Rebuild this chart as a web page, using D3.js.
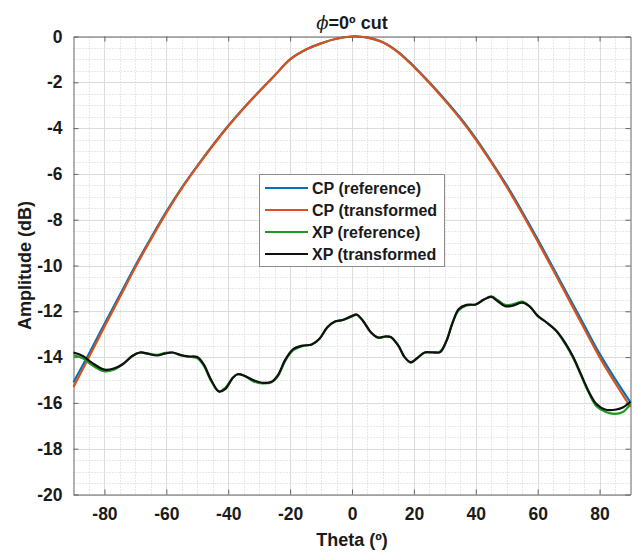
<!DOCTYPE html>
<html lang="en">
<head>
    <meta charset="UTF-8">
    <title>phi=0 cut</title>
    <script type="text/javascript" src="https://cdnjs.cloudflare.com/ajax/libs/d3/7.8.5/d3.min.js"></script>
    <style>
        body { margin: 0; background: #fff; }
        text { font-family: "Liberation Sans", Arial, sans-serif; font-weight: bold; fill: #1a1a1a; }
    </style>
</head>
<body>
    <div id="displayhere"></div>

    <script>
        // Data
        var cpTheta = [-90, -85, -80, -75, -70, -65, -60, -55, -50, -45, -40, -35, -30, -25, -20, -15, -10, -5, 0, 2, 5, 10, 15, 20, 25, 30, 35, 40, 45, 50, 55, 60, 65, 70, 75, 80, 85, 90];
        var cpRef = [-15.1, -13.85, -12.55, -11.28, -10.0, -8.8, -7.65, -6.6, -5.65, -4.75, -3.9, -3.12, -2.4, -1.7, -1.0, -0.58, -0.3, -0.1, 0, 0, -0.05, -0.25, -0.68, -1.3, -2.0, -2.75, -3.55, -4.45, -5.45, -6.5, -7.65, -8.85, -10.1, -11.35, -12.6, -13.85, -14.95, -15.98];
        var cpTrans = [-15.3, -14.0, -12.68, -11.38, -10.08, -8.86, -7.7, -6.63, -5.67, -4.77, -3.92, -3.13, -2.4, -1.7, -1.0, -0.58, -0.3, -0.1, 0, 0, -0.05, -0.26, -0.7, -1.33, -2.03, -2.79, -3.6, -4.5, -5.5, -6.57, -7.73, -8.95, -10.2, -11.47, -12.74, -14.0, -15.12, -16.18];

        var xpTheta = [-90, -87, -84, -80, -77, -74, -71, -68.5, -66, -63, -60.5, -58, -55.5, -53, -50, -48, -45.5, -43, -41, -38.5, -37, -35, -32, -29, -26, -24, -21.5, -19, -16, -13, -10.5, -8, -5.5, -3, 0, 1.5, 3.5, 6, 8.5, 10.5, 12.5, 15, 17, 19, 21, 23.5, 26, 28.5, 30.5, 32.5, 34.5, 37, 40, 42.5, 45, 47, 49.5, 52, 55, 57.5, 60, 63, 66, 69, 71.5, 74, 76.5, 79, 82, 85, 87.5, 90];
        var xpRef = [-13.92, -14.05, -14.35, -14.62, -14.55, -14.3, -13.95, -13.8, -13.85, -13.9, -13.82, -13.8, -13.92, -13.98, -14.05, -14.35, -15.05, -15.5, -15.35, -14.9, -14.75, -14.8, -15.05, -15.15, -15.1, -14.85, -14.15, -13.7, -13.52, -13.45, -13.2, -12.72, -12.45, -12.38, -12.22, -12.16, -12.42, -12.9, -13.15, -13.12, -13.12, -13.52, -14.0, -14.25, -14.05, -13.8, -13.78, -13.75, -13.3, -12.5, -11.95, -11.75, -11.7, -11.5, -11.35, -11.5, -11.72, -11.7, -11.58, -11.8, -12.2, -12.5, -12.85, -13.45, -14.05, -14.8, -15.55, -16.15, -16.4, -16.48, -16.4, -16.05];
        var xpTrans = [-13.8, -13.95, -14.25, -14.55, -14.5, -14.3, -13.95, -13.8, -13.85, -13.93, -13.85, -13.8, -13.9, -13.97, -14.0, -14.3, -15.0, -15.5, -15.4, -14.9, -14.75, -14.8, -15.0, -15.12, -15.08, -14.8, -14.1, -13.65, -13.5, -13.45, -13.2, -12.7, -12.45, -12.38, -12.2, -12.14, -12.4, -12.9, -13.15, -13.1, -13.12, -13.5, -14.0, -14.22, -14.05, -13.8, -13.8, -13.78, -13.3, -12.5, -11.9, -11.72, -11.7, -11.5, -11.37, -11.55, -11.78, -11.75, -11.62, -11.8, -12.2, -12.5, -12.85, -13.4, -14.0, -14.75, -15.5, -16.05, -16.3, -16.3, -16.2, -15.95];

        var xTicks = [-80, -60, -40, -20, 0, 20, 40, 60, 80];
        var yTicks = [0, -2, -4, -6, -8, -10, -12, -14, -16, -18, -20];
        var legendNames = ["CP (reference)", "CP (transformed", "XP (reference)", "XP (transformed"];
        var colors = ["#0072bd", "#d95319", "#1f9a1f", "#111111"];

        // Size of chart
        var w = 633;
        var h = 552;
        var padLeft = 73.5, padTop = 36.5, plotW = 557, plotH = 458;

        var svg = d3.select('#displayhere')
            .append("svg")
            .attr("width", w)
            .attr("height", h);

        var x = d3.scaleLinear().domain([-90, 90]).range([padLeft, padLeft + plotW]);
        var y = d3.scaleLinear().domain([-20, 0]).range([padTop + plotH, padTop]);

        // minor grid (dotted) every 5 deg / 0.5 dB
        var minorX = d3.range(-85, 90, 5);
        var minorY = d3.range(-19.5, 0, 0.5);
        svg.append("g").selectAll("line").data(minorX).enter().append("line")
            .attr("x1", function(d) { return Math.round(x(d)) + 0.5; })
            .attr("x2", function(d) { return Math.round(x(d)) + 0.5; })
            .attr("y1", padTop).attr("y2", padTop + plotH)
            .attr("stroke", "#d0d0d0").attr("stroke-dasharray", "1,2");
        svg.append("g").selectAll("line").data(minorY).enter().append("line")
            .attr("y1", function(d) { return Math.round(y(d)) + 0.5; })
            .attr("y2", function(d) { return Math.round(y(d)) + 0.5; })
            .attr("x1", padLeft).attr("x2", padLeft + plotW)
            .attr("stroke", "#d0d0d0").attr("stroke-dasharray", "1,2");

        // major grid
        svg.append("g").selectAll("line").data(xTicks).enter().append("line")
            .attr("x1", function(d) { return Math.round(x(d)) + 0.5; })
            .attr("x2", function(d) { return Math.round(x(d)) + 0.5; })
            .attr("y1", padTop).attr("y2", padTop + plotH)
            .attr("stroke", "#dcdcdc");
        svg.append("g").selectAll("line").data(yTicks).enter().append("line")
            .attr("y1", function(d) { return Math.round(y(d)) + 0.5; })
            .attr("y2", function(d) { return Math.round(y(d)) + 0.5; })
            .attr("x1", padLeft).attr("x2", padLeft + plotW)
            .attr("stroke", "#dcdcdc");

        // axes with inward ticks, box on
        var axisB = d3.axisBottom(x).tickValues(xTicks).tickSizeInner(-5).tickSizeOuter(0).tickPadding(13);
        var axisT = d3.axisTop(x).tickValues(xTicks).tickSizeInner(-5).tickSizeOuter(0).tickFormat("");
        var axisL = d3.axisLeft(y).tickValues(yTicks).tickSizeInner(-5).tickSizeOuter(0).tickPadding(11);
        var axisR = d3.axisRight(y).tickValues(yTicks).tickSizeInner(-5).tickSizeOuter(0).tickFormat("");

        function styleAxis(g) {
            g.select(".domain").attr("stroke", "#666");
            g.selectAll(".tick line").attr("stroke", "#666");
            g.selectAll("text").attr("font-size", "17.5px").attr("font-family", null).attr("fill", "#1a1a1a");
        }

        svg.append("g").attr("transform", "translate(0," + (padTop + plotH) + ")").call(axisB)
            .call(styleAxis)
            .selectAll("text").text(function(d) { return String(d); });
        svg.append("g").attr("transform", "translate(0," + padTop + ")").call(axisT).call(styleAxis);
        svg.append("g").attr("transform", "translate(" + padLeft + ",0)").call(axisL).call(styleAxis)
            .selectAll("text").text(function(d) { return String(d); });
        svg.append("g").attr("transform", "translate(" + (padLeft + plotW) + ",0)").call(axisR).call(styleAxis);

        // curves
        var line = d3.line()
            .x(function(d) { return x(d[0]); })
            .y(function(d) { return y(d[1]); })
            .curve(d3.curveCatmullRom.alpha(0.5));

        function pairs(t, v) {
            return t.map(function(d, i) { return [d, v[i]]; });
        }

        var series = [pairs(cpTheta, cpRef), pairs(cpTheta, cpTrans), pairs(xpTheta, xpRef), pairs(xpTheta, xpTrans)];

        svg.append("g").selectAll("path").data(series).enter().append("path")
            .attr("d", line)
            .attr("fill", "none")
            .attr("stroke", function(d, i) { return colors[i]; })
            .attr("stroke-width", 2.2)
            .attr("stroke-linejoin", "round");

        // legend
        var lg = svg.append("g");
        lg.append("rect")
            .attr("x", 259.5).attr("y", 174.5).attr("width", 185).attr("height", 92)
            .attr("fill", "#fff").attr("stroke", "#8c8c8c");
        var rows = lg.selectAll("g.row").data(legendNames).enter().append("g")
            .attr("transform", function(d, i) { return "translate(0," + (188 + i * 22) + ")"; });
        rows.append("line")
            .attr("x1", 265).attr("x2", 308)
            .attr("stroke", function(d, i) { return colors[i]; })
            .attr("stroke-width", 2.2);
        rows.append("text")
            .attr("x", 312).attr("y", 6)
            .attr("font-size", "16px")
            .text(function(d) { return d; });

        // titles
        var title = svg.append("text")
            .attr("x", padLeft + plotW / 2).attr("y", 29)
            .attr("text-anchor", "middle")
            .attr("font-size", "18px");
        title.append("tspan").attr("font-style", "italic").attr("font-family", "DejaVu Serif").attr("font-weight", "normal").text("\u03d5");
        title.append("tspan").text("=0\u00ba cut");

        svg.append("text")
            .attr("x", padLeft + plotW / 2).attr("y", 546)
            .attr("text-anchor", "middle")
            .attr("font-size", "18px")
            .text("Theta (\u00ba)");

        svg.append("text")
            .attr("transform", "translate(31," + (padTop + plotH / 2) + ") rotate(-90)")
            .attr("text-anchor", "middle")
            .attr("font-size", "18px")
            .text("Amplitude (dB)");
    </script>
</body>
</html>
